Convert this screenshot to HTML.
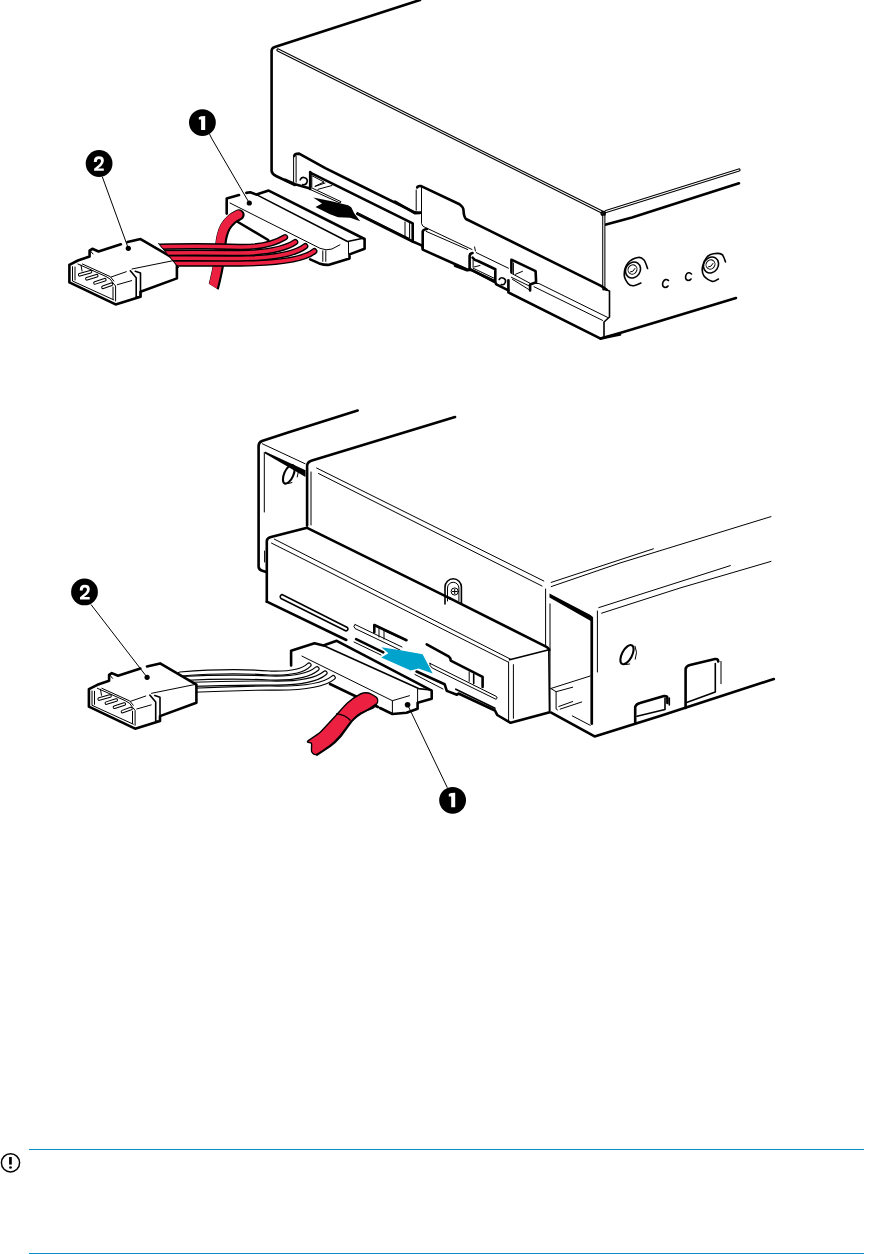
<!DOCTYPE html>
<html><head><meta charset="utf-8">
<style>
html,body{margin:0;padding:0;background:#fff;}
body{width:893px;height:1254px;overflow:hidden;position:relative;font-family:"Liberation Sans",sans-serif;}
svg{position:absolute;left:0;top:0;}
.k{fill:none;stroke:#000;stroke-width:2.6;stroke-linecap:round;stroke-linejoin:round;}
.m{fill:none;stroke:#000;stroke-width:1.6;stroke-linecap:round;stroke-linejoin:round;}
.t{fill:none;stroke:#000;stroke-width:1;stroke-linecap:round;stroke-linejoin:round;}
.d{fill:none;stroke:#000;stroke-width:3.2;stroke-linecap:round;}
.dw{fill:none;stroke:#fff;stroke-width:1.1;stroke-linecap:round;}
.rc{fill:none;stroke:#000;stroke-linecap:round;}
.rr{fill:none;stroke:#EC2142;stroke-linecap:round;}
.wr{fill:none;stroke:#fff;stroke-linecap:round;}
</style></head>
<body>
<svg width="893" height="1254" viewBox="0 0 893 1254">
<g id="d1">
<!-- drive top -->
<path class="k" d="M420,0 L274.8,47 Q271.6,48 271.6,51 L271.6,171 Q272,174 276,176 L295,185"/>
<path class="d" d="M278,50 L602,212"/><path class="dw" d="M278,50 L602,212"/>
<circle cx="603.2" cy="213.5" r="2.7" fill="#000"/><circle cx="603.2" cy="213.5" r="1" fill="#666"/>
<path class="d" d="M606,211.5 L739,170"/><path class="dw" d="M606,211.5 L739,170"/>
<path class="k" d="M606,224.6 L632,217.5 L685,200.4 L739,183.3"/>
<path class="d" d="M603.8,214 L603.8,289"/><path class="dw" d="M603.8,216 L603.8,289"/>
<path class="m" d="M603.8,289 L609.5,291 L609.5,317 L604,322 L604,338.5"/>
<path class="k" d="M600.6,338.6 L620,333 L660,321 L736,298"/>
<!-- screws -->
<path class="m" stroke-width="1.5" d="M647.6,268.5 C647.0,267.1 645.6,261.8 644.0,260.0 C642.4,258.2 640.7,257.0 638.0,257.5 C635.3,258.0 630.3,260.1 628.0,263.0 C625.7,265.9 624.2,271.2 624.2,274.6 C624.2,278.0 626.5,281.6 628.0,283.5 C629.5,285.4 631.4,285.8 633.5,285.7 C635.6,285.6 639.7,283.4 640.9,283.0"/>
<ellipse cx="633" cy="270" rx="7.2" ry="8.3" transform="rotate(35 633 270)" class="m" stroke-width="1.6"/>
<ellipse cx="632.5" cy="269.5" rx="4.3" ry="4.8" transform="rotate(35 632.5 269.5)" class="t" stroke-width="1.2"/>
<path class="t" d="M630.5,272 Q633,272.5 635,268.5"/>
<path class="m" stroke-width="1.5" d="M718.4,279.0 C717.4,279.4 714.7,281.9 712.3,281.4 C709.9,280.9 705.6,278.4 704.0,276.0 C702.4,273.6 701.9,270.2 702.4,267.0 C702.9,263.8 705.1,259.2 707.0,257.0 C708.9,254.8 711.0,254.1 713.5,253.7 C716.0,253.3 720.0,253.1 722.0,254.5 C724.0,255.9 724.9,260.8 725.5,262.0"/>
<ellipse cx="711" cy="265" rx="7.2" ry="8.3" transform="rotate(35 711 265)" class="m" stroke-width="1.6"/>
<ellipse cx="710.5" cy="264.5" rx="4.3" ry="4.8" transform="rotate(35 710.5 264.5)" class="t" stroke-width="1.2"/>
<path class="t" d="M708.5,267 Q711,267.5 713,263.5"/>
<path class="m" stroke-width="1.5" d="M668.5,280.5 Q665,278 663,282 Q661.5,286.5 665,287.5 Q667,287.5 668,286"/>
<path class="m" stroke-width="1.5" d="M691.5,274 Q688,271 686,275 Q684.5,279.5 688,280.5 Q690,280.5 691,279"/>
<!-- front panel -->
<path class="k" d="M294.2,156 Q294.6,153.6 299.1,153.6 L325.3,168.2 L349.2,180 L414.7,212.3 Q417,213 420.7,212.8"/>
<path class="t" d="M293.6,157 L293.6,182 M296.1,156 L296.1,182.3"/>
<path class="k" d="M417.2,187.5 Q417.5,185.6 421.2,186.1 L459.5,204.2 Q463.5,207 463.5,210.3 Q463.8,217 466,219 L485,228.4 L600,285.4 Q604,287.5 606.6,289.7"/>
<path class="t" d="M416.2,190 L416.2,210.3 M421.5,187 L421.5,223.4 Q422,226.5 425.2,227.4 L472,249.5"/>
<path class="t" d="M426.2,231.4 L467.6,249.5"/>
<path class="k" d="M395,201.7 L415.2,213.3 L420.7,212.8"/>
<path class="k" d="M422.2,245.6 L422.7,249.6 L467.6,269.8 M422.7,249.6 L422.7,231.5 Q423,229.5 427,229"/>
<path class="t" d="M469.6,253.6 L469.6,268 M474.6,247 L475.4,251"/>
<path class="k" d="M310.2,172.7 L412.7,223.3 L412.7,241.5 L422.2,245.6"/>
<path class="k" d="M310.2,172 L310.2,189"/>
<path class="k" d="M357.2,213.8 L412.7,241.5"/>
<path class="t" d="M357.2,212.3 L409.6,238.5 L409.6,223.5 M405,222 L405,236"/>
<path class="t" d="M311.8,174.5 L311.8,187 M312.5,176 L324,182 L315.5,186 M315,186.5 L325,183 M318,189.3 L332,185.5"/>
<path class="t" d="M310,189.4 L340,203 L341,201.7 L312,188"/>
<path class="m" stroke-width="1.2" d="M300.2,179.8 A3.6,3.6 0 1 1 302.8,184.6"/>
<path class="k" d="M285,179.8 L295.1,184.3 L309.2,188.3"/>
<!-- sockets -->
<path class="k" d="M469.6,269.2 L469.6,256 Q470,253.5 472.5,253"/>
<path class="k" d="M472.6,257.6 Q474,260 478,261 L494.3,268.7 L495.3,269 L495.3,280.3"/>
<path class="k" d="M469.6,269.2 L495.3,281.5"/>
<path class="t" d="M473.1,268.2 L494.3,278.3 M473.1,260 L473.1,267 M474,267 L480,265.5"/>
<path class="t" d="M476.2,252.6 L508.4,268.2"/>
<path class="m" stroke-width="1.2" d="M499.2,279.5 A3.4,3.4 0 1 1 501.2,284.5"/>
<path class="k" d="M455,265.7 L467.1,270.2 L471,269.7 L495.3,282.3 L496.3,284.3 L508.4,290.4"/>
<path class="k" d="M511.4,272.3 L511.4,259.7 L535.6,271.2 L536.1,282.3 L530.1,284.4 L530.1,290.4"/>
<path class="t" d="M513.4,263 L513.4,274 M515.5,274.3 L522.5,271.3 M511.4,273.3 L530.1,283.3 M511.4,277.3 L530.1,286.4 M512.4,279.3 L528.6,289.4"/>
<path class="k" d="M508.4,280.3 L508.4,292.4 L600.6,338.6 L620,334.6"/>
<path class="t" d="M533.6,283.3 L539.1,283.6 L607.6,317.4 M534,286.7 L602.6,320.4"/>
<!-- arrow -->
<path d="M313.2,197.4 L330.4,201 L348.1,205.2 L351.2,207.2 L354.2,213.3 L360.2,221.3 L350.2,217.8 L338.1,217.3 L330,214.3 L315.5,207 L322,203.5 Z" fill="#000"/>
<!-- connector 1 -->
<g>
<path d="M226.7,213.6 L226.7,198.5 L268.7,190.6 L364.6,239 L364.6,248.8 L349.5,254.4 L349.5,258.4 L328.3,264.9 L310.2,259.4 L226.7,213.6 Z" fill="#fff"/>
<path class="k" d="M226.7,213.6 L226.7,198.5 L239,195.1 M246.3,192.9 L250.2,192.3 L256.4,194.6 L268.7,190.6 L364.6,239 L364.6,248.8 L349.5,254.4 L349.5,258.4 L328.3,264.9 Q324,265 319.2,263.4 L310.2,259.4"/>
<path class="m" d="M256.4,194.6 L347.5,241.5 L362,238.5"/>
<path class="t" stroke-width="1.2" d="M230,203 L320,248.3 Q326,251 332,249 L339.9,244.8"/>
<path class="t" d="M348.5,242 L348.5,254"/>
<path class="t" d="M322.8,250.8 L322.8,261.4 M325.8,250.8 L325.8,261.4"/>
<path class="k" d="M237.9,222 L268.2,240"/>
<defs><clipPath id="cut2"><path d="M120,197 L186,277 L400,277 L400,150 L120,150 Z"/></clipPath><clipPath id="cut1"><path d="M150,150 L320,150 L320,320 L218,289.5 L207,282.5 L150,282 Z"/></clipPath></defs>
<g clip-path="url(#cut1)">
<path class="rc" stroke-width="11.2" d="M239.0,214.9 C237.8,215.6 234.0,217.3 231.8,219.3 C229.6,221.3 227.2,224.0 225.6,226.8 C224.0,229.6 223.0,232.7 222.1,236.3 C221.2,239.9 221.0,243.6 220.4,248.3 C219.8,253.0 219.4,259.3 218.6,264.3 C217.8,269.3 216.9,273.6 215.8,278.3 C214.8,283.0 212.9,290.0 212.3,292.3"/>
<path class="rr" stroke-width="8.6" d="M238.2,214.6 C237.0,215.3 233.2,217.0 231.0,219.0 C228.8,221.0 226.4,223.7 224.8,226.5 C223.2,229.3 222.2,232.4 221.3,236.0 C220.4,239.6 220.2,243.3 219.6,248.0 C219.0,252.7 218.6,259.0 217.8,264.0 C217.0,269.0 216.1,273.3 215.0,278.0 C213.9,282.7 212.1,289.7 211.5,292.0"/>
</g>
<!-- red cables -->
<!-- molex 2 -->
<g id="mx">
<path d="M69.4,264.9 L89.6,256.4 L140.6,239.1 L176.9,260.3 L176.9,278.4 L141.6,291.5 L140,297 L115.6,304.4 L69.4,282.4 Z" fill="#fff"/>
<path class="k" stroke-width="2.4" d="M69.4,264.9 L69.4,282.4 L115.6,304.4 L140.5,296.8 L140.5,291.8 L176.9,278.4 L176.9,260.3 L140.6,239.1 L127.5,242.1 M120.9,244.3 L98.5,251.5 L92.3,248.8 L89.6,250.6 L89.6,256.4 L77.9,260.5 L69.4,264.9"/>
<path class="t" stroke-width="1.2" d="M72.5,266.7 L72.5,281 L113.8,299.9 M77.9,264 L106,276.5 Q111,278.5 113,283 L115.6,286 L115.6,301"/>
<path class="t" stroke-width="1.1" d="M75,267 L75,280 M82.4,264 L110.2,276.6 L113.8,281 M113,287 L113,299"/>
<path class="t" d="M81,265 L82,271"/>
<g stroke-linecap="round" fill="none">
<path stroke="#000" stroke-width="3.6" d="M79.7,274.8 L90.5,271.7 M86.9,278.8 L96.7,275.7 M95,282.9 L104.8,279.7 M103,287.3 L111.5,284.2"/>
<path stroke="#fff" stroke-width="1.6" d="M79.7,274.8 L90.5,271.7 M86.9,278.8 L96.7,275.7 M95,282.9 L104.8,279.7 M103,287.3 L111.5,284.2"/>
</g>
<path class="t" d="M111.1,277 L126.3,271.7 M117.3,284.7 L131.7,280.6 M132,269 L174.9,260.3"/>
<path class="m" stroke-width="2" d="M130.3,270.8 L136.2,277.8 L136.2,297"/>
<path class="m" stroke-width="1.7" d="M135.3,271.2 L140.5,273 L140.5,297 L136.2,297"/>
<path class="t" d="M90.5,251 L93,254"/>
</g>
<g>
<g clip-path="url(#cut2)">
<path class="rc" stroke-width="6.3" d="M145,247 Q200,245.5 240,247 Q268,247.5 285,237.2"/>
<path class="rc" stroke-width="6.3" d="M145,253 Q200,252.5 240,253 Q280,252.5 295.2,242.1"/>
<path class="rc" stroke-width="6.3" d="M145,258.3 Q200,258 240,258.5 Q290,258 305.2,246.2"/>
<path class="rc" stroke-width="6.3" d="M145,263.5 Q200,263.5 240,263.5 Q300,263 314.3,251.2"/>
<path class="rr" stroke-width="3.6" d="M145,247 Q200,245.5 240,247 Q268,247.5 285,237.2"/>
<path class="rr" stroke-width="3.6" d="M145,253 Q200,252.5 240,253 Q280,252.5 295.2,242.1"/>
<path class="rr" stroke-width="3.6" d="M145,258.3 Q200,258 240,258.5 Q290,258 305.2,246.2"/>
<path class="rr" stroke-width="3.6" d="M145,263.5 Q200,263.5 240,263.5 Q300,263 314.3,251.2"/>
</g>
<path class="t" stroke-width="1.2" d="M158.6,243.6 L178.6,267.6"/>
</g>
<!-- callouts -->
<circle cx="202.4" cy="122.6" r="13.4" fill="#000"/>
<path d="M198.8,117.3 L201,116.2 L205.2,116 L205.2,130 L201.1,130 L201.1,119.6 L198.8,119.6 Z" fill="#fff"/>
<path class="t" stroke-width="1.1" d="M209.7,134.4 L212,139 L249.3,203"/>
<circle cx="249.3" cy="203" r="2.6" fill="#000"/>
<circle cx="99.1" cy="163.5" r="13.4" fill="#000"/>
<path fill="#fff" d="M93.9,161.9 L93.9,161.2 Q93.9,156.2 99,156.2 Q103.9,156.2 103.9,160.6 Q103.9,163.3 101.3,165.9 L98,168.5 L103.8,168.5 L103.8,170.8 L94.1,170.8 L94.1,168.7 L99.4,164.2 Q101.1,162.6 101.1,161 Q101.1,158.9 99,158.9 Q96.8,158.9 96.8,161.9 Z"/>
<path class="t" stroke-width="1.1" d="M102.5,177.3 L128.3,248.3"/>
<circle cx="128.3" cy="248.3" r="2.6" fill="#000"/>
</g>

<g id="d2">
<!-- bracket -->
<path class="k" d="M357.6,410.5 L288,432.4 L262,441 Q258.6,442.5 258.6,446 L258.6,567 Q259,570 263,571 L266.5,572"/>
<path class="t" d="M264.3,452.4 L264.3,512 M264.6,551 L264.6,562"/>
<path class="t" d="M262.4,443.8 L305.2,463.8"/>
<path d="M265,451.4 L305.5,470.2 L305.5,477 L265,453.4 Z" fill="#000"/>
<ellipse cx="288.8" cy="474.3" rx="4.6" ry="10" transform="rotate(24 288.8 474.3)" fill="none" stroke="#000" stroke-width="2.1"/><path class="t" stroke-width="1.1" d="M297.5,468.5 Q299,473 297.3,477 M287.5,483.5 Q290,483.5 292,482.5"/>
<!-- drive body -->
<path class="k" d="M455,417 L312,460.5 Q307.1,462 307.1,466 L307.1,525.6"/>
<path class="t" d="M311,472 L311,525"/>
<path class="t" stroke-width="1.2" d="M316.6,468 L543.8,581 M318.5,473.5 L542,586"/>
<path class="t" stroke-width="1.2" d="M545.6,589 L545.6,645.1 M550,603.9 L550,649"/>
<!-- right side bracket -->
<path class="t" d="M551.2,582.4 L653.4,548.8 M551.2,586.6 L620,563 L771,516.6"/>
<path class="t" d="M598.8,607.6 L730.4,565.6 M601.6,613.2 L680,588 L771,561.4"/>
<path d="M549.5,593.5 L590.5,615 L592.8,617 L592.8,723.8 L590.8,723.8 L590.8,621 L549.5,597.5 Z" fill="#000"/><path class="k" stroke-width="2.2" d="M591.8,618 L591.8,723.8"/>
<path class="t" stroke-width="1.2" d="M597.4,611 L597.4,672 M550,649 L550,712"/>
<path class="k" d="M551.2,712.6 L594.6,736.4 L660,716 L773.8,679"/>
<ellipse cx="627" cy="654.6" rx="5" ry="10.5" transform="rotate(28 627 654.6)" fill="none" stroke="#000" stroke-width="2.1"/><path class="t" stroke-width="1.2" d="M635.1,646.2 Q638,652 635.3,659.2 M624.8,664.3 Q627,664.8 629.7,664"/>
<path class="k" stroke-width="2.3" d="M635.2,722 L635.2,707 Q636,704 640,703 L664,696 Q667.4,695.5 667.4,698.5 L667.4,703"/>
<path class="m" stroke-width="1.4" d="M665,698 L665,709.5 L637,716.2 M669.3,698 L669.3,705"/>
<path class="k" stroke-width="2.3" d="M685.6,708 L685.6,669 Q686,666 690,665 L715,659 Q718,658.5 718.3,661.5"/><path class="m" stroke-width="1.7" d="M715.3,663.6 L715.3,692 L687.3,702.3"/>
<path class="t" stroke-width="1.2" d="M721,661.4 L721,683.7"/>
<path class="t" stroke-width="1.2" d="M550.8,688.5 L590.2,676 M550.8,688.5 L556.1,691.7 L572.7,687.2 M556.1,691.7 L556.1,709 L557.5,710 M558.8,706.5 L572.7,701.5 M560.2,709.1 L581.7,702 M572.3,715.9 L590.2,725.3"/>
<!-- bezel -->
<path d="M266.8,539 L269,537 L307.1,527.8 L548.8,649.7 L548.8,712.5 L509.6,721.4 L266.8,601.7 Z" fill="#fff"/>
<path class="k" d="M266.8,601.7 L266.8,541 Q267,538 271,537 L307.1,527.8 L450,598.4"/><path class="k" stroke-width="2" d="M450,598.4 L546.5,646.8 Q548.5,648 549.2,650"/><path class="m" d="M548.8,649.7 L549.5,712.5"/>
<path class="k" d="M266.8,601.7 L346.3,640"/>
<path class="t" stroke-width="1.2" d="M274.3,539.1 L510.8,659.3 M271.5,543.1 L508.1,662"/>
<path class="m" d="M509.6,659.8 L548,650"/>
<path class="t" stroke-width="1.2" d="M508.6,662 L508.6,721 M513.4,664.6 L513.4,718.3"/>
<path class="m" d="M282,594.5 L347.4,627.5 Q349,630 346,631 L281,598.5 Q279,596 282,594.5 Z"/>
<path class="t" stroke-width="1.2" d="M355,624.5 L402,647 M355,624.5 Q352.5,626 355,628.5 L400,650"/>
<path class="k" d="M374.3,632.2 L374.3,625 L406.5,640.2"/>
<path class="t" d="M379,628 L379,637 M384,630 L384,639 M385,631 L398,637"/>
<path class="k" d="M356.1,639.2 L383.3,652.3"/>
<path class="t" d="M354,642 L381,655"/>
<path class="k" d="M426.7,644.3 L449,656.7 Q450.7,658 450.7,660.6 L482.6,676.9 L482.6,687"/>
<path class="t" stroke-width="1.2" d="M430,663.4 L496.5,696.5 Q498,698.5 496,699.3 L432.2,668 Q429,665.5 430,663.4 Z"/>
<path class="t" d="M469.2,671.8 L469.2,681.4"/><path class="m" stroke="#555" stroke-width="1.8" d="M473.7,674 L473.7,683.6"/>
<path class="k" d="M416.6,671.5 L444.6,684.2 L446.8,690.9 L456.9,694.8 L458.5,693.5 L495,710.5 L497.2,715 L510.6,722.8 L548.8,712.5"/>
<path class="m" d="M455.8,689.2 L495,708.2"/>
<path class="t" d="M415,674.5 L443,689"/>
<path class="m" fill="#fff" d="M445,604 L445,587 A8.2,8.2 0 0 1 461.4,587 L461.4,604"/><path class="t" d="M447.5,601 L447.5,588 A5.7,5.7 0 0 1 458.9,588 L458.9,601"/>
<circle cx="454.7" cy="591.5" r="3.6" class="t"/>
<path class="t" d="M452.4,591.5 L457,591.5 M454.7,589.2 L454.7,593.8"/>
<!-- arrow -->
<path d="M381.3,647.3 L400.5,650.3 L422.6,654.3 L432.7,673.5 L418.6,668.5 L410.6,670.5 L381.3,657.4 L388.4,653.3 Z" fill="#00A3CC"/>
<!-- connector 1 d2 -->
<path d="M291.1,665.4 L291.1,650.7 L314.5,643.3 L336.7,640.8 L431.7,690.6 L431.7,698.7 L417.6,702.7 L417.6,708.8 L406.5,712.8 L392.4,714 L330,684 Z" fill="#fff"/>
<path class="k" d="M291.1,665.4 L291.1,650.7 L314.5,643.3 L323.4,645.4 L336.7,640.8 L431.7,690.6 L431.7,698.7 L417.6,702.7 L417.6,708.8 L406.5,712.8 L392.4,714 L380,708"/>
<path class="t" stroke-width="1.2" d="M301.9,656.1 L392.4,700.7 L409.5,695.7"/>
<path class="m" d="M323.4,645.4 L418.6,688.6 L431,690"/>
<path class="t" d="M392.4,700.7 L392.4,714 M417.6,689 L417.6,702.7"/>
<path class="k" d="M330,684 L378,707"/>
<!-- cable red d2 -->
<g>
<path fill="#EC2142" stroke="#000" stroke-width="1.4" stroke-linejoin="round" d="M307.6,741.4 C308.6,740.1 317.0,735.2 320.2,732.3 C323.4,729.4 332.1,719.6 335.3,716.2 C338.5,712.8 344.5,705.7 347.4,703.1 C350.3,700.5 358.0,695.2 360.5,694.0 C363.0,692.8 366.6,692.6 368.5,693.0 C370.4,693.4 375.5,696.4 376.6,697.5 C377.7,698.6 378.0,700.9 377.6,702.1 C377.2,703.3 375.6,706.3 373.6,707.6 C371.6,708.9 363.2,711.5 360.5,713.2 C357.8,714.9 352.8,719.7 350.4,722.3 C348.0,724.9 342.7,732.7 340.3,735.4 C337.9,738.1 333.0,743.2 330.2,745.4 C327.4,747.6 318.3,753.8 316.1,754.5 C313.9,755.2 312.1,752.8 311.6,751.5 C311.1,750.2 312.0,744.6 311.5,743.4 C311.0,742.2 306.6,742.7 307.6,741.4 Z"/>
<path fill="none" stroke="#000" stroke-width="1.6" d="M376.5,704 Q370,709 360.5,714 Q353,719 350.4,723.3 L340.8,736.4 Q335,743 330.2,746.4 L316.3,755.5"/>
<path fill="none" stroke="#000" stroke-width="1.3" d="M336.3,713.7 Q346,715 350.4,720.5"/>
</g>
<!-- white cables -->
<g>
<path class="rc" stroke-width="5.2" d="M180,674 Q230,670 270,673 Q300,674 309,665"/>
<path class="rc" stroke-width="5.2" d="M182,678.5 Q230,676 270,678 Q305,679 317,668.7"/>
<path class="rc" stroke-width="5.2" d="M184,684.5 Q230,683 270,683 Q312,684 325,673"/>
<path class="rc" stroke-width="5.2" d="M186,690.5 Q230,688.5 270,688 Q320,689 333.2,677.6"/>
<path class="wr" stroke-width="2.9" d="M180,674 Q230,670 270,673 Q300,674 309,665"/>
<path class="wr" stroke-width="2.9" d="M182,678.5 Q230,676 270,678 Q305,679 317,668.7"/>
<path class="wr" stroke-width="2.9" d="M184,684.5 Q230,683 270,683 Q312,684 325,673"/>
<path class="wr" stroke-width="2.9" d="M186,690.5 Q230,688.5 270,688 Q320,689 333.2,677.6"/>
</g>
<!-- molex d2 -->
<use href="#mx" transform="translate(19.5,424.3)"/>
<!-- callouts d2 -->
<circle cx="84.5" cy="591.9" r="13.4" fill="#000"/>
<g transform="translate(-14.1,428.6)"><path fill="#fff" d="M93.9,161.9 L93.9,161.2 Q93.9,156.2 99,156.2 Q103.9,156.2 103.9,160.6 Q103.9,163.3 101.3,165.9 L98,168.5 L103.8,168.5 L103.8,170.8 L94.1,170.8 L94.1,168.7 L99.4,164.2 Q101.1,162.6 101.1,161 Q101.1,158.9 99,158.9 Q96.8,158.9 96.8,161.9 Z"/></g>
<path class="t" stroke-width="1.1" d="M91.2,604.8 L147.1,677.3"/>
<circle cx="147.1" cy="677.3" r="2.6" fill="#000"/>
<circle cx="452.6" cy="800.3" r="13.4" fill="#000"/>
<path d="M448.8,794 L451,792.9 L455.2,792.7 L455.2,807.2 L451.2,807.2 L451.2,796.6 L448.8,796.6 Z" fill="#fff"/>
<path class="t" stroke-width="1.1" d="M407.6,704.8 L447.2,787.4"/>
<circle cx="407.6" cy="704.8" r="2.8" fill="#000"/>
</g>

<!-- bottom note -->
<line x1="29" y1="1149.5" x2="864" y2="1149.5" stroke="#088FC8" stroke-width="1.2"/>
<line x1="29" y1="1253.5" x2="864" y2="1253.5" stroke="#088FC8" stroke-width="1.2"/>
<circle cx="10.5" cy="1162.8" r="9.1" fill="none" stroke="#000" stroke-width="1.45"/>
<rect x="9.1" y="1157" width="2.7" height="7.6" fill="#000"/>
<circle cx="10.5" cy="1167.5" r="1.35" fill="#000"/>
</svg>
</body></html>
